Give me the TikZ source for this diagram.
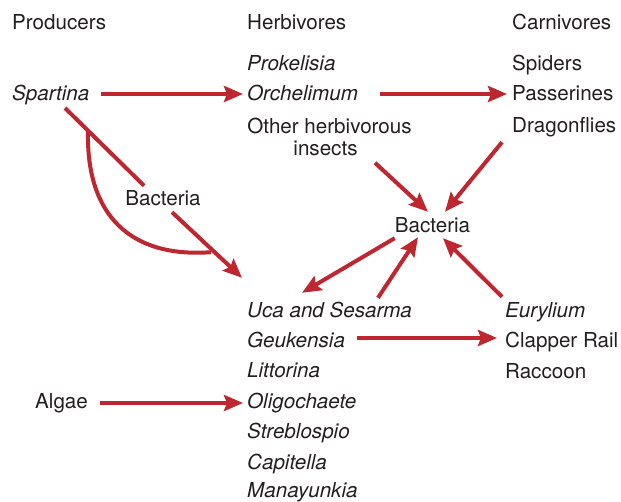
\documentclass[tikz,border=0pt]{standalone}
\usepackage{fontspec}
\setmainfont{TeX Gyre Heros}
\usetikzlibrary{arrows.meta,calc}
\definecolor{arrred}{HTML}{BE2630}
\definecolor{txt}{HTML}{231F20}
\begin{document}
\begin{tikzpicture}[x=1pt,y=-1pt,
  lbl/.style={anchor=west,inner sep=0pt,text height=14.8pt,text depth=0pt,text=txt,
    font=\fontsize{20.6}{23}\selectfont},
  clbl/.style={lbl,anchor=center},
  ln/.style={draw=arrred,line width=4pt},
  arr/.style={ln,-{Stealth[length=19pt,width=16pt,inset=3pt]}}]
\useasboundingbox (0,0) rectangle (621,501);
% headers
\node[lbl] (prod) at (12,22) {Producers};
\node[lbl] (herb) at (247,22) {Herbivores};
\node[lbl] (carn) at (512,22) {Carnivores};
% producers
\node[lbl] (spartina) at (12,93) {\itshape Spartina};
\node[lbl] (algae) at (35,401) {Algae};
% herbivores
\node[lbl] (prok) at (247,63) {\itshape Prokelisia};
\node[lbl] (orch) at (247,93) {\itshape Orchelimum};
\node[anchor=north,inner sep=0pt,align=center,text=txt,
  font=\fontsize{20.6}{22.5}\selectfont] (other) at (329.5,117.6) {Other herbivorous\\\hspace*{-8pt}insects};
% carnivores
\node[lbl] (spiders) at (512,63) {Spiders};
\node[lbl] (pass) at (512,93) {Passerines};
\node[lbl] (drag) at (512,125) {Dragonflies};
% bacteria
\node[clbl] (bactC) at (432.5,225) {Bacteria};
\node[clbl] (bactL) at (163,198) {Bacteria};
% detritivores
\node[lbl] (uca) at (247,310) {\itshape Uca and Sesarma};
\node[lbl] (geuk) at (247,340) {\itshape Geukensia};
\node[lbl] (litt) at (247,370) {\itshape Littorina};
\node[lbl] (oligo) at (247,401) {\itshape Oligochaete};
\node[lbl] (streb) at (247,431) {\itshape Streblospio};
\node[lbl] (capi) at (247,462) {\itshape Capitella};
\node[lbl] (mana) at (247,490) {\itshape Manayunkia};
% top carnivores
\node[lbl] (eury) at (505,310) {\itshape Eurylium};
\node[lbl] (clap) at (505,340) {Clapper Rail};
\node[lbl] (racc) at (505,371) {Raccoon};
% horizontal arrows
\draw[arr] ($(spartina.east)+(11,1)$) -- ($(orch.west)+(-4,1)$);
\draw[arr] ($(orch.east)+(22,1)$) -- ($(pass.west)+(-5,1)$);
\draw[arr] ($(geuk.east)+(11.5,-2)$) -- ($(clap.west)+(-8,-2)$);
\draw[arr] ($(algae.east)+(12,2)$) -- ($(oligo.west)+(-4,2)$);
% Spartina -> Bacteria -> Uca
\draw[ln] ($(spartina.west)+(53,15)$) -- ($(bactL.north west)+(19,-4.6)$);
\draw[arr] ($(bactL.south)+(9,6.6)$) -- ($(uca.north west)+(-5,-24.6)$);
\draw[ln] ($(spartina.west)+(76,38)$) .. controls ($(spartina.west)+(74,122)$) and ($(spartina.west)+(118,165)$) .. ($(bactL.south)+(48,46.6)$);
% to central bacteria
\draw[arr] ($(other.south)+(45.5,6.6)$) -- ($(bactC.north)+(-4.5,-5.6)$);
\draw[arr] ($(drag.south west)+(-10,9.6)$) -- ($(bactC.north)+(12.5,-5.6)$);
\draw[arr] ($(bactC.south west)+(0,5.6)$) -- ($(uca.north west)+(55,-9.6)$);
\draw[arr] ($(uca.north west)+(131,-4.6)$) -- ($(bactC.south)+(-14.5,4.6)$);
\draw[arr] ($(eury.north west)+(-3,-5.6)$) -- ($(bactC.south)+(10.5,5.6)$);
\end{tikzpicture}
\end{document}
